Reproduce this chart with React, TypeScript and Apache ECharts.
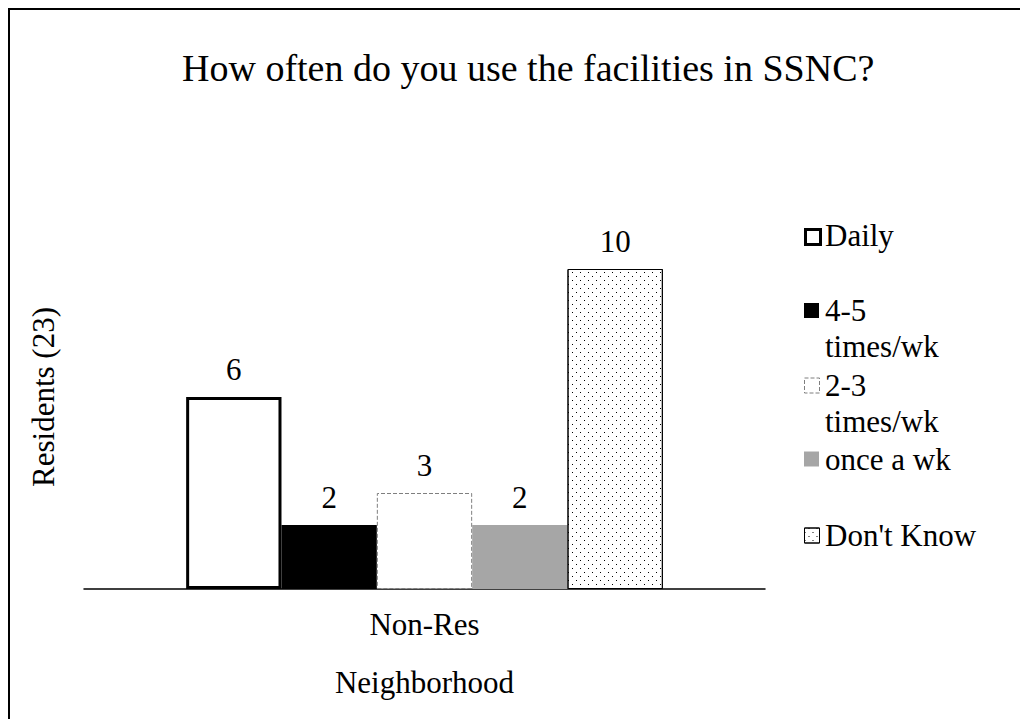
import React, { useEffect, useRef } from "react";
import * as echarts from "echarts";

const categories = ["Non-Res"];
const seriesNames = ["Daily", "4-5 times/wk", "2-3 times/wk", "once a wk", "Don't Know"];
const legendLines = [["Daily"], ["4-5", "times/wk"], ["2-3", "times/wk"], ["once a wk"], ["Don't Know"]];
const dailyValues = [6];
const fourFiveValues = [2];
const twoThreeValues = [3];
const onceValues = [2];
const dontKnowValues = [10];

const FONT = "Liberation Serif";

const styles: any[] = [
  { color: "#ffffff", borderColor: "#000000", borderWidth: 3 },
  { color: "#000000" },
  { color: "#ffffff", borderColor: "#7f7f7f", borderType: "dashed", borderWidth: 1 },
  { color: "#a6a6a6" },
  {
    color: "#ffffff",
    borderColor: "#000000",
    borderWidth: 1,
    decal: {
      symbol: "rect",
      symbolSize: 1,
      color: "#000000",
      dashArrayX: [[1, 7], [0, 4, 1, 3]],
      dashArrayY: [1, 3],
      rotation: 0,
    },
  },
];

// vertical centre of each legend icon (first text line)
const legendCenters = [235.5, 310.5, 385, 459, 535];
const LINE = 36;

export default function App() {
  const ref = useRef<HTMLDivElement>(null);
  useEffect(() => {
    if (!ref.current) return;
    const chart = echarts.init(ref.current, undefined, { renderer: "svg" });
    const values = [dailyValues, fourFiveValues, twoThreeValues, onceValues, dontKnowValues];
    const series = seriesNames.map((name, i) => ({
      name,
      type: "bar",
      data: values[i],
      barGap: "0%",
      barCategoryGap: "30%",
      itemStyle: styles[i],
      label: {
        show: true,
        position: "top",
        distance: 12,
        fontSize: 31,
        fontFamily: FONT,
        color: "#000",
      },
    }));
    const legends = seriesNames.map((name, i) => ({
      orient: "vertical",
      left: 804,
      top: legendCenters[i] - 7.5,
      padding: 0,
      itemWidth: 15,
      itemHeight: 15,
      icon: "rect",
      selectedMode: false,
      formatter: () => "",
      textStyle: { fontSize: 1 },
      data: [{ name, itemStyle: { ...styles[i] } }],
    }));
    const legendTexts: any[] = [];
    legendLines.forEach((lines, i) => {
      lines.forEach((t, j) => {
        legendTexts.push({
          type: "text",
          x: 825,
          y: legendCenters[i] + j * LINE,
          silent: true,
          style: {
            text: t,
            fontSize: 31,
            fontFamily: FONT,
            fill: "#000",
            verticalAlign: "middle",
            align: "left",
          },
        });
      });
    });
    chart.setOption({
      animation: false,
      backgroundColor: "#ffffff",
      textStyle: { fontFamily: FONT },
      title: {
        text: "How often do you use the facilities in SSNC?",
        left: 177,
        top: 44,
        textStyle: { fontSize: 38, fontFamily: FONT, fontWeight: "normal", color: "#000" },
      },
      graphic: [
        {
          type: "rect",
          shape: { x: 9, y: 9, width: 1100, height: 800 },
          style: { fill: "none", stroke: "#000", lineWidth: 2 },
          silent: true,
        },
        ...legendTexts,
      ],
      legend: legends,
      grid: { left: 84, right: 255, top: 205, bottom: 130 },
      xAxis: {
        type: "category",
        data: categories,
        axisLine: { lineStyle: { color: "#000", width: 1.5 } },
        axisTick: { show: false },
        axisLabel: { fontSize: 31, fontFamily: FONT, color: "#000", margin: 20 },
        name: "Neighborhood",
        nameLocation: "middle",
        nameGap: 78,
        nameTextStyle: { fontSize: 31, fontFamily: FONT, color: "#000" },
      },
      yAxis: {
        type: "value",
        min: 0,
        max: 12,
        interval: 2,
        axisLine: { show: false },
        axisTick: { show: false },
        axisLabel: { show: false },
        splitLine: { show: false },
        name: "Residents (23)",
        nameLocation: "middle",
        nameGap: 25,
        nameTextStyle: { fontSize: 31, fontFamily: FONT, color: "#000" },
      },
      series,
    });
    return () => chart.dispose();
  }, []);
  return (
    <div
      ref={ref}
      style={{ position: "fixed", left: 0, top: 0, width: 1020, height: 719 }}
    />
  );
}
